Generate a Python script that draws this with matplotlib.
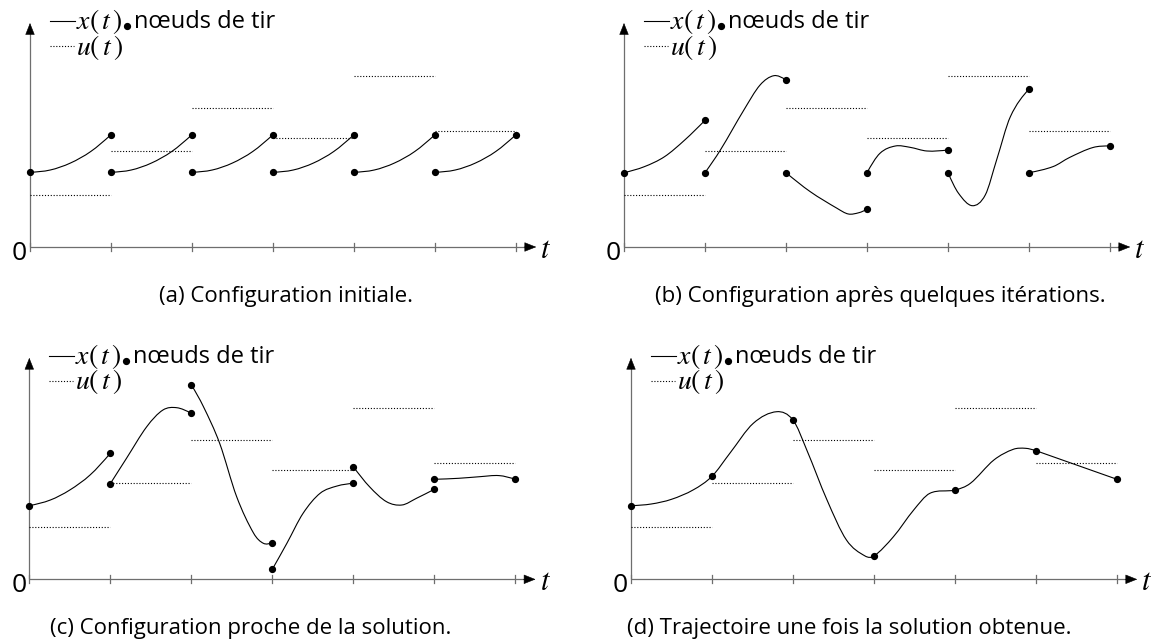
import numpy as np
import matplotlib
matplotlib.use("Agg")
import matplotlib.pyplot as plt
from matplotlib.path import Path
from matplotlib.patches import PathPatch

plt.rcParams["mathtext.fontset"] = "stix"
plt.rcParams["font.family"] = ["Open Sans", "DejaVu Sans"]

W, H, DPI = 1154, 642, 100

# ---------------------------------------------------------------- data
# shooting nodes t_0 .. t_6
t_nodes = [0, 1, 2, 3, 4, 5, 6]
# piecewise-constant control u(t) on each interval (same in all panels)
u_levels = [52, 96, 139, 109, 171, 116]

# (a) initial guess: same arc restarted from the same state on every interval
a_arc_t = [0.0, 0.25, 0.5, 0.75, 1.0]
a_arc_x = [74.7, 77.0, 84.0, 95.5, 112.3]

# (b) after a few iterations: one arc per interval
b_arcs_t = [[0, 0.25, 0.5, 0.75, 1],
            [1, 1.19, 1.48, 1.68, 1.85, 2],
            [2, 2.3, 2.63, 2.77, 2.9, 3],
            [3, 3.16, 3.35, 3.53, 3.74, 4],
            [4, 4.13, 4.3, 4.46, 4.6, 4.77, 5],
            [5, 5.3, 5.5, 5.79, 6]]
b_arcs_x = [[74.3, 80.3, 90.3, 107, 126.7],
            [74.3, 97, 137, 162, 171.3, 167],
            [74.3, 55.3, 38.7, 33, 34.3, 37.7],
            [74.3, 93.7, 101, 99.7, 96, 97],
            [74.3, 53.7, 41.3, 52, 87, 130.3, 158],
            [74.3, 80.5, 89.5, 99.5, 101]]

# (c) close to the solution
c_arcs_t = [[0, 0.26, 0.5, 0.75, 1],
            [1, 1.2, 1.45, 1.65, 1.82, 2],
            [2, 2.15, 2.35, 2.56, 2.77, 2.89, 3],
            [3, 3.18, 3.38, 3.59, 3.8, 4],
            [4, 4.2, 4.41, 4.6, 4.78, 5],
            [5, 5.3, 5.56, 5.8, 6]]
c_arcs_x = [[73.6, 79.3, 89.3, 104.3, 126],
            [95.6, 121, 152.6, 169.3, 171.6, 166],
            [194.6, 172.6, 136, 82.6, 46, 36, 36.6],
            [10, 36, 66, 86, 93.3, 96],
            [112.6, 92.6, 77.6, 74.3, 81, 90],
            [100, 101, 102.6, 103.7, 100]]

# (d) converged trajectory
d_arcs_t = [[0, 0.25, 0.5, 0.77, 1, 1.22, 1.51, 1.8, 2, 2.17, 2.42, 2.66,
             2.89, 3, 3.24, 3.49, 3.69, 4, 4.19, 4.48, 4.72, 4.87, 5],
            [5, 6]]
d_arcs_x = [[73.6, 75.3, 80, 89.5, 103, 126, 156, 167.6, 159.3, 129.3, 79.3,
             39.3, 23.3, 23.3, 42.6, 69.3, 86, 89.3, 96, 119.3, 130, 131, 128.6],
            [128.6, 100]]
d_node_x = [73.6, 103, 159.3, 23.3, 89.3, 128.6, 100]

captions = ["(a) Configuration initiale.",
            "(b) Configuration après quelques itérations.",
            "(c) Configuration proche de la solution.",
            "(d) Trajectoire une fois la solution obtenue."]

# ---------------------------------------------------------------- helpers
TICK = 81.0            # pixels per time step
AXIS_GREY = "#6e6e6e"


def smooth_path(ts, xs):
    """Cubic Hermite curve x(t) through the sampled points (Bezier pieces)."""
    t = np.asarray(ts, float)
    x = np.asarray(xs, float)
    n = len(t)
    if n == 2:
        return Path(np.column_stack([t, x]), [Path.MOVETO, Path.LINETO])
    m = np.zeros(n)
    m[1:-1] = (x[2:] - x[:-2]) / (t[2:] - t[:-2])
    m[0] = (3 * (x[1] - x[0]) / (t[1] - t[0]) - m[1]) / 2
    m[-1] = (3 * (x[-1] - x[-2]) / (t[-1] - t[-2]) - m[-2]) / 2
    verts = [(t[0], x[0])]
    codes = [Path.MOVETO]
    for i in range(n - 1):
        h = t[i + 1] - t[i]
        verts += [(t[i] + h / 3, x[i] + m[i] * h / 3),
                  (t[i + 1] - h / 3, x[i + 1] - m[i + 1] * h / 3),
                  (t[i + 1], x[i + 1])]
        codes += [Path.CURVE4] * 3
    return Path(np.array(verts), codes)


def make_panel(fig, box, origin, ytop, caption, cap_x):
    """box = (left, top, right, bottom) in pixels, origin = (px, py)."""
    l, t, r, b = box
    ax = fig.add_axes([l / W, 1 - b / H, (r - l) / W, (b - t) / H])
    ax.set_xlim((l - origin[0]) / TICK, (r - origin[0]) / TICK)
    ax.set_ylim(origin[1] - b, origin[1] - t)
    ax.axis("off")

    # axes with arrow heads
    ax.plot([0, 6.2], [0, 0], color=AXIS_GREY, lw=0.9, solid_capstyle="butt")
    ax.plot([0, 0], [0, ytop - 6], color=AXIS_GREY, lw=0.9, solid_capstyle="butt")
    head = dict(arrowstyle="-|>,head_length=0.55,head_width=0.22",
                color="black", lw=0.4, shrinkA=0, shrinkB=0, mutation_scale=14)
    ax.annotate("", xy=(6.25, 0), xytext=(6.1, 0), arrowprops=head)
    ax.annotate("", xy=(0, ytop), xytext=(0, ytop - 10), arrowprops=head)
    for tk in t_nodes:
        ax.plot([tk, tk], [-4, 4], color=AXIS_GREY, lw=0.9)
    ax.text(-0.13, -6, "0", fontsize=19, ha="center", va="center")
    ax.text(6.37, -3, r"$t$", fontsize=22, ha="center", va="center")

    # piecewise-constant control
    for k, u in enumerate(u_levels):
        ax.plot([t_nodes[k], t_nodes[k + 1]], [u, u], color="black", lw=0.8,
                linestyle=(0, (1, 1.6)))

    # legend
    ly1, ly2 = ytop + 2, ytop - 23
    ax.plot([20 / TICK, 45 / TICK], [ly1, ly1], color="black", lw=0.8)
    ax.text(46 / TICK, ly1 - 1, r"$x(\,t\,)$", fontsize=20, ha="left",
            va="center")
    ax.plot([97 / TICK], [ly1 - 5], "o", color="black", ms=4.2)
    ax.text(104 / TICK, ly1 - 1, "nœuds de tir", fontsize=17, ha="left",
            va="center")
    ax.plot([20 / TICK, 44 / TICK], [ly2, ly2], color="black", lw=0.8,
            linestyle=(0, (1, 1.6)))
    ax.text(46 / TICK, ly2 - 1, r"$u(\,t\,)$", fontsize=20, ha="left",
            va="center")

    ax.text(cap_x, -49, caption, fontsize=16, ha="center", va="center")
    return ax


def draw_arc(ax, ts, xs):
    ax.add_patch(PathPatch(smooth_path(ts, xs), facecolor="none",
                           edgecolor="black", lw=0.8))


def dots(ax, ts, xs):
    ax.plot(ts, xs, "o", color="black", ms=4.2, zorder=5)


fig = plt.figure(figsize=(W / DPI, H / DPI), dpi=DPI)

# (a)
ax = make_panel(fig, (0, 0, 577, 320), (30, 247), 224, captions[0], 3.16)
for k in range(6):
    ts = [t_nodes[k] + s for s in a_arc_t]
    draw_arc(ax, ts, a_arc_x)
    dots(ax, [ts[0], ts[-1]], [a_arc_x[0], a_arc_x[-1]])

# (b) and (c): one arc per interval, nodes at both ends
for box, origin, ytop, cap, cx, arcs_t, arcs_x in [
        ((577, 0, 1154, 320), (624, 247), 224, captions[1], 3.17, b_arcs_t, b_arcs_x),
        ((0, 320, 577, 642), (29.3, 579.3), 221.5, captions[2], 2.73, c_arcs_t, c_arcs_x)]:
    ax = make_panel(fig, box, origin, ytop, cap, cx)
    for ts, xs in zip(arcs_t, arcs_x):
        draw_arc(ax, ts, xs)
        dots(ax, [ts[0], ts[-1]], [xs[0], xs[-1]])

# (d)
ax = make_panel(fig, (577, 320, 1154, 642), (631, 579.3), 221.5, captions[3], 2.69)
for ts, xs in zip(d_arcs_t, d_arcs_x):
    draw_arc(ax, ts, xs)
dots(ax, t_nodes, d_node_x)

fig.savefig("out.png", dpi=DPI)
